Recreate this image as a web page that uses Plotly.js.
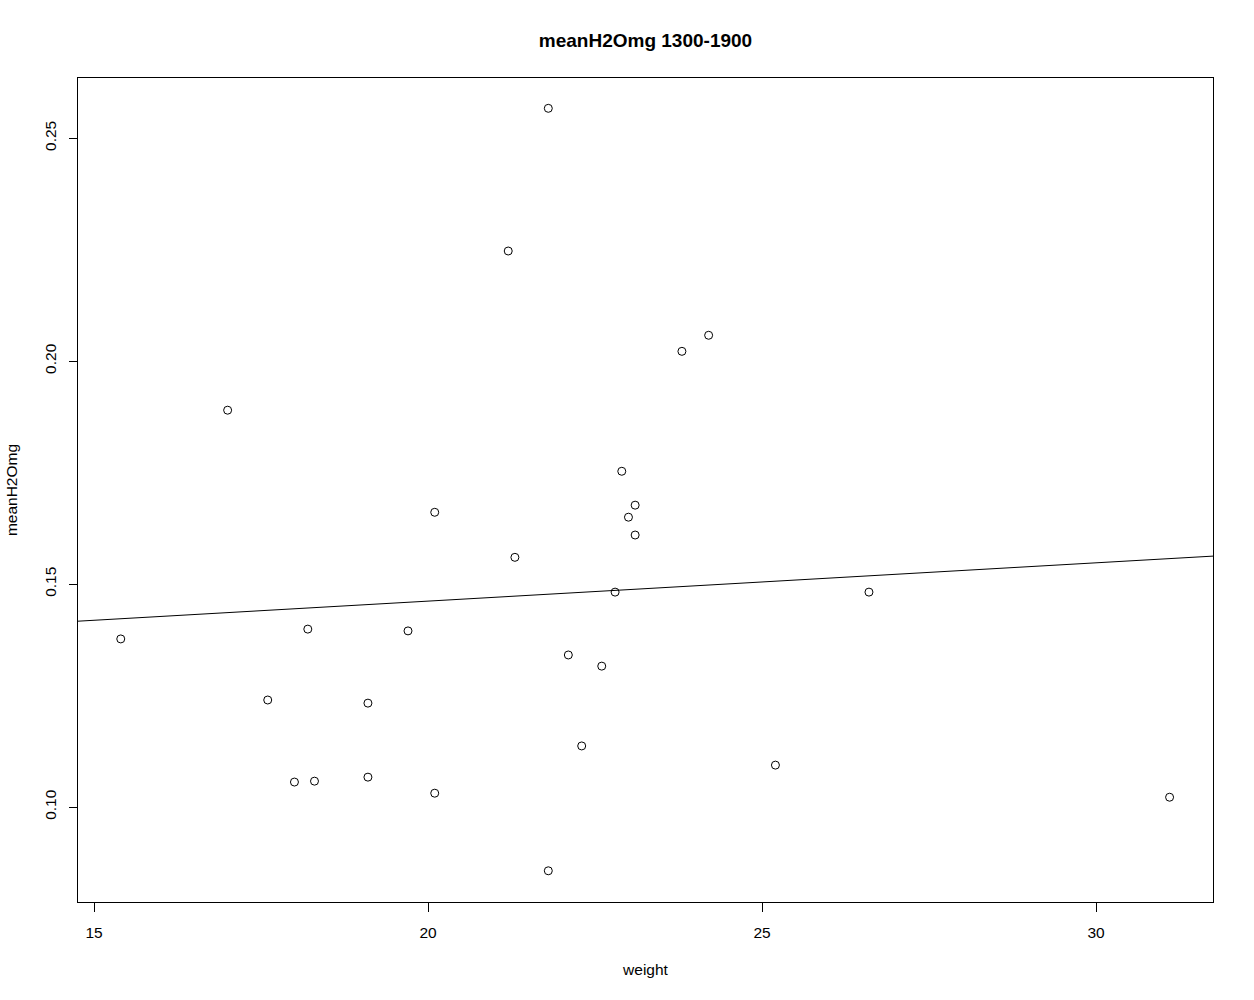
<!DOCTYPE html>
<html>
<head>
<meta charset="utf-8">
<script src="https://cdn.plot.ly/plotly-3.0.1.min.js"></script>
<style>
  html, body { margin: 0; padding: 0; background: #fff; }
  #chart { width: 1254px; height: 1000px; }
</style>
</head>
<body>
<div id="chart"></div>
<script>
// weight vs meanH2Omg
var weight = [15.4, 17.0, 17.6, 18.0, 18.2, 18.3, 19.1, 19.1, 19.7, 20.1,
              20.1, 21.2, 21.3, 21.8, 21.8, 22.1, 22.3, 22.6, 22.8, 22.9,
              23.0, 23.1, 23.1, 23.8, 24.2, 25.2, 26.6, 31.1];
var meanH2Omg = [0.1377, 0.1890, 0.1240, 0.1056, 0.1399, 0.1058, 0.1233, 0.1067, 0.1395, 0.1661,
                 0.1031, 0.2247, 0.1560, 0.2567, 0.0857, 0.1341, 0.1137, 0.1316, 0.1482, 0.1753,
                 0.1650, 0.1677, 0.1610, 0.2022, 0.2058, 0.1094, 0.1482, 0.1022];

// abline of the linear fit (intercept, slope) as seen in the picture
var fitIntercept = 0.1290;
var fitSlope = 0.000859;

var xRange = [14.76, 31.75];
var yRange = [0.0787, 0.2635];

var points = {
  x: weight,
  y: meanH2Omg,
  type: 'scatter',
  mode: 'markers',
  marker: {symbol: 'circle-open', size: 8, color: '#000', line: {width: 1, color: '#000'}},
  hoverinfo: 'x+y'
};

var fit = {
  x: xRange,
  y: xRange.map(function (v) { return fitIntercept + fitSlope * v; }),
  type: 'scatter',
  mode: 'lines',
  line: {color: '#000', width: 1},
  hoverinfo: 'skip'
};

var axisFont = {family: 'Liberation Sans, Arial, sans-serif', size: 15.5, color: '#000'};

var layout = {
  width: 1254,
  height: 1000,
  showlegend: false,
  paper_bgcolor: '#fff',
  plot_bgcolor: '#fff',
  margin: {l: 78, r: 41, t: 78, b: 98},
  font: axisFont,
  title: {
    text: '<b>meanH2Omg 1300-1900</b>',
    font: {family: 'Liberation Sans, Arial, sans-serif', size: 19, color: '#000'},
    x: 0.5, xref: 'paper', y: 0.96, yref: 'container', yanchor: 'middle'
  },
  xaxis: {
    range: xRange,
    tickvals: [15, 20, 25, 30],
    ticks: 'outside', ticklen: 9, tickcolor: '#000', tickwidth: 1,
    showline: true, linecolor: '#000', linewidth: 1, mirror: true,
    showgrid: false, zeroline: false,
    tickfont: axisFont,
    ticklabelstandoff: 7,
    title: {text: 'weight', font: axisFont, standoff: 24}
  },
  yaxis: {
    range: yRange,
    tickvals: [0.10, 0.15, 0.20, 0.25],
    ticktext: ['0.10', '0.15', '0.20', '0.25'],
    tickangle: -90,
    ticks: 'outside', ticklen: 8, tickcolor: '#000', tickwidth: 1,
    showline: true, linecolor: '#000', linewidth: 1, mirror: true,
    showgrid: false, zeroline: false,
    tickfont: axisFont,
    ticklabelstandoff: 7,
    title: {text: 'meanH2Omg', font: axisFont, standoff: 20}
  }
};

Plotly.newPlot('chart', [fit, points], layout, {displayModeBar: false, staticPlot: true});
</script>
</body>
</html>
